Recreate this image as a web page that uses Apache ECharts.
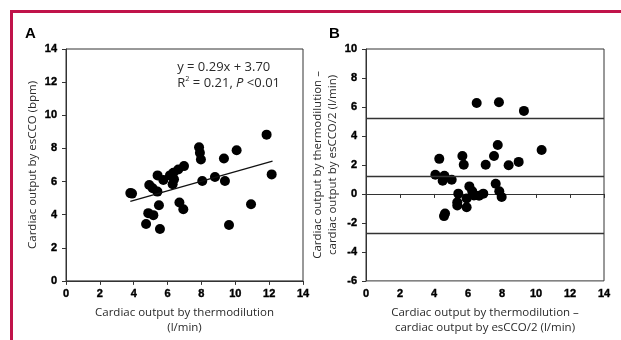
<!DOCTYPE html>
<html>
<head>
<meta charset="utf-8">
<script src="https://cdn.jsdelivr.net/npm/echarts@6/dist/echarts.min.js"></script>
<style>
  html, body { margin: 0; padding: 0; background: #fff; }
  #chart { width: 621px; height: 340px; }
</style>
</head>
<body>
<div id="chart"></div>
<script>
// Panel A: thermodilution vs esCCO
const pointsA = [
  [3.8, 5.3], [3.9, 5.27], [4.92, 5.79], [5.12, 5.59], [5.4, 5.39], [5.41, 6.37],
  [5.75, 6.09], [6.14, 6.37], [6.34, 6.53], [6.38, 6.13], [6.3, 5.83], [6.63, 6.73],
  [6.97, 6.93], [7.86, 8.07], [7.91, 7.73], [7.97, 7.33], [8.05, 6.03], [8.8, 6.27],
  [9.33, 7.39], [9.39, 6.03], [10.08, 7.89], [11.85, 8.83], [12.15, 6.43], [10.93, 4.63],
  [6.7, 4.73], [6.93, 4.33], [5.49, 4.57], [4.86, 4.09], [5.16, 3.97], [4.73, 3.43],
  [5.55, 3.13], [9.63, 3.37]
];
const fitSlope = 0.29;
const fitIntercept = 3.70;
const fitRange = [3.8, 12.2];

// Panel B: Bland-Altman
const pointsB = [
  [6.51, 6.27], [7.82, 6.32], [9.29, 5.73], [7.75, 3.38], [10.33, 3.03], [7.53, 2.62],
  [5.67, 2.62], [4.31, 2.42], [5.75, 2.01], [7.04, 2.01], [8.39, 1.98], [8.98, 2.21],
  [4.08, 1.32], [4.61, 1.25], [4.51, 0.91], [5.04, 0.98], [6.08, 0.52], [7.63, 0.7],
  [5.43, 0.02], [6.25, 0.18], [6.35, -0.1], [6.65, -0.12], [6.9, 0.02], [7.84, 0.18],
  [7.98, -0.21], [5.92, -0.32], [5.37, -0.57], [5.37, -0.8], [5.92, -0.92], [4.65, -1.35],
  [4.59, -1.53]
];
const limitLines = [5.2, 1.25, -2.7];

const chart = echarts.init(document.getElementById('chart'));

const tickFont = {
  fontFamily: 'Liberation Sans', fontWeight: 'bold', fontSize: 11, color: '#000',
  textBorderColor: '#000', textBorderWidth: 0.4
};
const nameFont = { fontFamily: 'Open Sans', fontSize: 11.5, color: '#2a2a2a', lineHeight: 15 };
const lineCol = '#333';

function axis(min, max, gridIndex, name, gap, labelMargin) {
  return {
    type: 'value', gridIndex, min, max, interval: 2,
    name, nameLocation: 'middle', nameGap: gap, nameTextStyle: nameFont,
    axisLine: { show: true, lineStyle: { color: lineCol, width: 1 } },
    axisTick: { show: true, length: 4, lineStyle: { color: lineCol } },
    axisLabel: Object.assign({ margin: labelMargin }, tickFont),
    splitLine: { show: false }
  };
}

const option = {
  animation: false,
  backgroundColor: '#fff',
  grid: [
    { left: 66, top: 49, width: 237, height: 233, show: true, borderColor: lineCol, borderWidth: 1 },
    { left: 366, top: 49, width: 238, height: 234, show: true, borderColor: lineCol, borderWidth: 1 }
  ],
  xAxis: [
    axis(0, 14, 0, 'Cardiac output by thermodilution\n(l/min)', 24, 8),
    axis(0, 14, 1, 'Cardiac output by thermodilution \u2013\ncardiac output by esCCO/2 (l/min)', 24, 8)
  ],
  yAxis: [
    axis(0, 14, 0, 'Cardiac output by esCCO (bpm)', 26, 9),
    axis(-6, 10, 1, 'Cardiac output by thermodilution \u2013\ncardiac output by esCCO/2 (l/min)', 22, 9)
  ],
  graphic: [
    { type: 'rect', shape: { x: 10, y: 10, width: 611, height: 3 }, style: { fill: '#c0134a' } },
    { type: 'rect', shape: { x: 10, y: 10, width: 3, height: 330 }, style: { fill: '#c0134a' } },
    { type: 'text', left: 25, top: 26, style: { text: 'A', font: 'bold 15px Liberation Sans', fill: '#000' } },
    { type: 'text', left: 329, top: 26, style: { text: 'B', font: 'bold 15px Liberation Sans', fill: '#000' } },
    {
      type: 'text', right: 341, top: 59,
      style: {
        text: '{r|y = 0.29x + 3.70}\n{r|R}{s|2}{r| = 0.21, }{i|P}{r| <0.01}',
        align: 'right', fill: '#2a2a2a', font: '13px Open Sans', lineHeight: 16,
        rich: {
          r: { fontFamily: 'Open Sans', fontSize: 13, fill: '#2a2a2a', lineHeight: 16 },
          s: { fontFamily: 'Open Sans', fontSize: 7.5, fill: '#2a2a2a', verticalAlign: 'top', padding: [0, 0, 8, 0] },
          i: { fontFamily: 'Open Sans', fontSize: 13, fontStyle: 'italic', fill: '#2a2a2a', lineHeight: 16 }
        }
      }
    }
  ],
  series: [
    {
      type: 'scatter', xAxisIndex: 0, yAxisIndex: 0, data: pointsA,
      symbolSize: 10, itemStyle: { color: '#000', opacity: 1 }
    },
    {
      type: 'line', xAxisIndex: 0, yAxisIndex: 0, symbol: 'none',
      data: fitRange.map(x => [x, fitSlope * x + fitIntercept]),
      lineStyle: { color: '#111', width: 1.3 }
    },
    {
      type: 'scatter', xAxisIndex: 1, yAxisIndex: 1, data: pointsB,
      symbolSize: 10, itemStyle: { color: '#000', opacity: 1 },
      markLine: {
        silent: true, symbol: 'none', label: { show: false },
        lineStyle: { color: lineCol, width: 1.3, type: 'solid' },
        data: limitLines.map(v => ({ yAxis: v }))
      }
    }
  ]
};

chart.setOption(option);
</script>
</body>
</html>
